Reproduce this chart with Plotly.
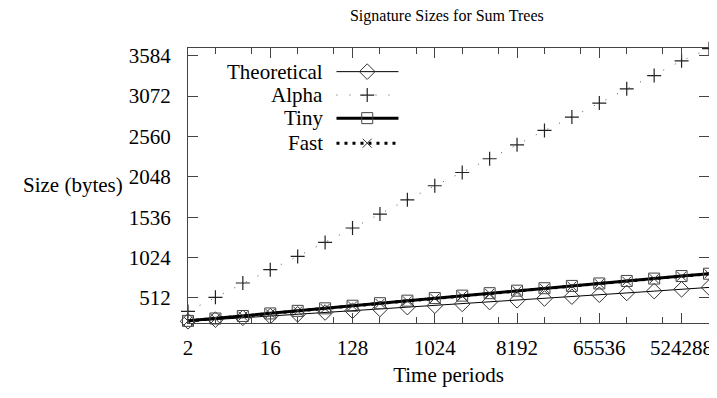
import math
import plotly.graph_objects as go

# ---- data ----
periods = [2, 4, 8, 16, 32, 64, 128, 256, 512, 1024, 2048, 4096, 8192, 16384,
           32768, 65536, 131072, 262144, 524288, 1048576]
theoretical = [216, 238, 260, 282, 305, 328, 350, 373, 396, 414, 437, 460, 483, 506,
               529, 553, 576, 599, 622, 646]
alpha = [342, 520, 702, 871, 1039, 1216, 1399, 1576, 1757, 1935, 2103, 2277, 2454, 2636,
         2805, 2983, 3164, 3332, 3519, 3672]
tiny = [222, 252, 284, 316, 349, 381, 414, 446, 478, 511, 542, 573, 605, 636,
        665, 696, 728, 758, 790, 820]
fast = [220, 250, 282, 314, 347, 379, 412, 444, 476, 509, 540, 571, 603, 634,
        663, 694, 726, 756, 788, 818]
x_ticks = [2, 16, 128, 1024, 8192, 65536, 524288]
x_tick_text = ["2", "16", "128", "1024", "8192", "65536", "524288"]
x_minor = [4, 10, 32, 80, 256, 640, 2048, 5120, 16384, 40960, 131072, 327680]
y_ticks = [512, 1024, 1536, 2048, 2560, 3072, 3584]
series_names = ["Theoretical", "Alpha", "Tiny", "Fast"]

FONT = "Liberation Serif"
FS = 21
AX = "#444444"

styles = {
    "Theoretical": dict(line=dict(color="black", width=1),
                        marker=dict(symbol="diamond-open", size=12, color="#333", line=dict(width=1))),
    "Alpha": dict(line=dict(color="#555", width=1, dash="1px,12px"),
                  marker=dict(symbol="cross-thin-open", size=10, color="#222", line=dict(width=1.2))),
    "Tiny": dict(line=dict(color="black", width=3),
                 marker=dict(symbol="square-open", size=11, color="#444", line=dict(width=1))),
    "Fast": dict(line=dict(color="black", width=3, dash="3px,5px"),
                 marker=dict(symbol="x-thin-open", size=9, color="#333", line=dict(width=1))),
}
values = {"Theoretical": theoretical, "Alpha": alpha, "Tiny": tiny, "Fast": fast}

fig = go.Figure()
for name in series_names:
    st = styles[name]
    fig.add_trace(go.Scatter(x=periods, y=values[name], mode="lines+markers", name=name,
                             line=st["line"], marker=st["marker"], showlegend=False,
                             cliponaxis=False))

# ---- custom gnuplot-style legend (text left, sample right) on an overlay axis ----
leg_rows = [0.914, 0.829, 0.745, 0.654]
sx0, sx1, sxc = 0.285, 0.404, 0.344
for name, yy in zip(series_names, leg_rows):
    st = styles[name]
    fig.add_trace(go.Scatter(x=[sx0, sx1], y=[yy, yy], mode="lines", line=st["line"],
                             xaxis="x2", yaxis="y2", showlegend=False, hoverinfo="skip"))
    fig.add_trace(go.Scatter(x=[sxc], y=[yy], mode="markers", marker=st["marker"],
                             xaxis="x2", yaxis="y2", showlegend=False, hoverinfo="skip"))
    fig.add_annotation(x=0.263, y=yy, xref="x2", yref="y2", text=name, showarrow=False,
                       xanchor="right", yanchor="middle",
                       font=dict(family=FONT, size=FS, color="black"))

fig.add_annotation(x=-0.121, y=0.502, xref="paper", yref="paper", text="Size (bytes)",
                   showarrow=False, xanchor="right", yanchor="middle",
                   font=dict(family=FONT, size=FS, color="black"))

xr = [math.log10(periods[0]) - 1e-6, math.log10(periods[-1]) + 1e-6]

# the page body has an 8px default margin, so the figure is 8px smaller
fig.update_layout(
    width=709, height=390,
    margin=dict(l=180, r=8, t=40, b=75),
    paper_bgcolor="white", plot_bgcolor="white",
    font=dict(family=FONT, size=FS, color="black"),
    title=dict(text="Signature Sizes for Sum Trees", x=0.619, xanchor="center",
               y=0.995, yanchor="top", font=dict(family=FONT, size=16)),
    xaxis=dict(type="log", range=xr, tickmode="array", automargin=False,
               tickvals=x_ticks, ticktext=x_tick_text, ticks="inside", ticklen=10,
               tickcolor=AX, showline=True, linecolor=AX, linewidth=1, mirror="allticks",
               showgrid=False, zeroline=False, ticklabelstandoff=6,
               minor=dict(tickmode="array", tickvals=x_minor, ticks="inside", ticklen=6,
                          tickcolor=AX, showgrid=False),
               title=dict(text="Time periods", standoff=8, font=dict(size=FS))),
    yaxis=dict(range=[195, 3681], tickmode="array", tickvals=y_ticks, ticks="inside",
               automargin=False,
               ticklen=10, tickcolor=AX, showline=True, linecolor=AX, linewidth=1,
               mirror="allticks", showgrid=False, zeroline=False, ticklabelstandoff=12),
    xaxis2=dict(overlaying="x", range=[0, 1], visible=False, fixedrange=True),
    yaxis2=dict(overlaying="y", range=[0, 1], visible=False, fixedrange=True),
    showlegend=False,
)

fig.write_html("out.html")
